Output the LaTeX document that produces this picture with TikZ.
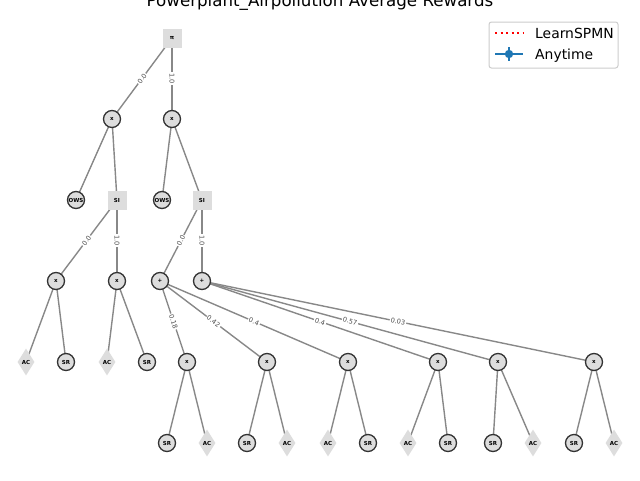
\documentclass[tikz,border=0pt]{standalone}
\usepackage{fontspec}
\setmainfont{DejaVu Sans}
\usetikzlibrary{shapes.geometric,backgrounds}

\definecolor{nodefill}{HTML}{DDDDDD}
\definecolor{nodeline}{HTML}{333333}
\definecolor{edgegray}{HTML}{888888}
\definecolor{mplblue}{HTML}{1F77B4}
\definecolor{legframe}{HTML}{CCCCCC}

\tikzset{
  nodetext/.style={font=\fontsize{5.5}{5.5}\selectfont\bfseries, text=black},
  roundnode/.style={circle, draw=nodeline, line width=1.3pt, fill=nodefill,
    minimum size=17pt, inner sep=0pt, nodetext},
  squarenode/.style={rectangle, fill=nodefill, minimum size=19pt,
    inner sep=0pt, nodetext},
  leafnode/.style={diamond, fill=nodefill, minimum width=17pt,
    minimum height=27pt, inner sep=0pt, nodetext},
  link/.style={draw=edgegray, line width=1.4pt},
  weight/.style={midway, sloped, fill=white, inner sep=1pt,
    text=black!70, font=\fontsize{6.6}{6.6}\selectfont},
  legendtext/.style={anchor=base west, inner sep=0pt,
    font=\fontsize{13.9}{16}\selectfont},
}

\begin{document}
\begin{tikzpicture}[x=1pt,y=-1pt]
\useasboundingbox (0,0) rectangle (640,480);

% title (its top runs off the page)
\node[anchor=base, font=\fontsize{16.67}{20}\selectfont] (title) at (320,6)
  {Powerplant\_Airpollution Average Rewards};

% level 1
\node[squarenode] (pi) at (172,38) {π};
% level 2
\node[roundnode] (xl) at (112,119) {x};
\node[roundnode] (xr) at (172,119) {x};
% level 3
\node[roundnode]  (owsa) at (76,200)  {OWS};
\node[squarenode] (sia)  at (117,200) {SI};
\node[roundnode]  (owsb) at (162,200) {OWS};
\node[squarenode] (sib)  at (202,200) {SI};
% level 4
\node[roundnode] (pa) at (56,281)  {x};
\node[roundnode] (pb) at (117,281) {x};
\node[roundnode] (sa) at (160,281) {+};
\node[roundnode] (sb) at (202,281) {+};
% level 5
\node[leafnode]  (aca) at (26,362)  {AC};
\node[roundnode] (sra) at (66,362)  {SR};
\node[leafnode]  (acb) at (107,362) {AC};
\node[roundnode] (srb) at (147,362) {SR};
\node[roundnode] (q1) at (187,362) {x};
\node[roundnode] (q2) at (267,362) {x};
\node[roundnode] (q3) at (348,362) {x};
\node[roundnode] (q4) at (438,362) {x};
\node[roundnode] (q5) at (498,362) {x};
\node[roundnode] (q6) at (594,362) {x};
% level 6
\node[roundnode] (sr1) at (167,443) {SR};
\node[leafnode]  (ac1) at (207,443) {AC};
\node[roundnode] (sr2) at (247,443) {SR};
\node[leafnode]  (ac2) at (287,443) {AC};
\node[leafnode]  (ac3) at (328,443) {AC};
\node[roundnode] (sr3) at (368,443) {SR};
\node[leafnode]  (ac4) at (408,443) {AC};
\node[roundnode] (sr4) at (448,443) {SR};
\node[roundnode] (sr5) at (493,443) {SR};
\node[leafnode]  (ac5) at (533,443) {AC};
\node[roundnode] (sr6) at (574,443) {SR};
\node[leafnode]  (ac6) at (614,443) {AC};

\begin{scope}[on background layer]
  % plain edges
  \foreach \a/\b in {xl/owsa, xl/sia, xr/owsb, xr/sib,
                     pa/aca, pa/sra, pb/acb, pb/srb,
                     q1/sr1, q1/ac1, q2/sr2, q2/ac2, q3/ac3, q3/sr3,
                     q4/ac4, q4/sr4, q5/sr5, q5/ac5, q6/sr6, q6/ac6}
    \draw[link] (\a.center) -- (\b.center);
  % weighted edges
  \foreach \a/\b/\w in {pi/xl/0.0, pi/xr/1.0, sia/pa/0.0, sia/pb/1.0,
                        sib/sa/0.0, sib/sb/1.0,
                        sa/q1/0.18, sa/q2/0.42, sa/q3/0.4,
                        sb/q4/0.4, sb/q5/0.57, sb/q6/0.03}
    \path[link] (\a.center) -- node[weight] (w-\a-\b) {\w} (\b.center);
\end{scope}

% legend
\draw[legframe, line width=1pt, fill=white, rounded corners=2.5pt]
  (489,22) rectangle (618,68);
\coordinate (lr0) at (495,33);
\coordinate (lr1) at (523,33);
\draw[red, line width=2.1pt, dash pattern=on 2.1pt off 3.4pt] (lr0) -- (lr1);
\node[legendtext] (lgA) at (535,38) {LearnSPMN};
\coordinate (lb0) at (495,54);
\coordinate (lb1) at (523,54);
\coordinate (lbt) at (509,47);
\coordinate (lbb) at (509,61);
\draw[mplblue, line width=2.1pt] (lb0) -- (lb1);
\draw[mplblue, line width=2.1pt] (lbt) -- (lbb);
\fill[mplblue] (509,54) circle (4.2pt);
\node[legendtext] (lgB) at (535,59) {Anytime};
\end{tikzpicture}
\end{document}
